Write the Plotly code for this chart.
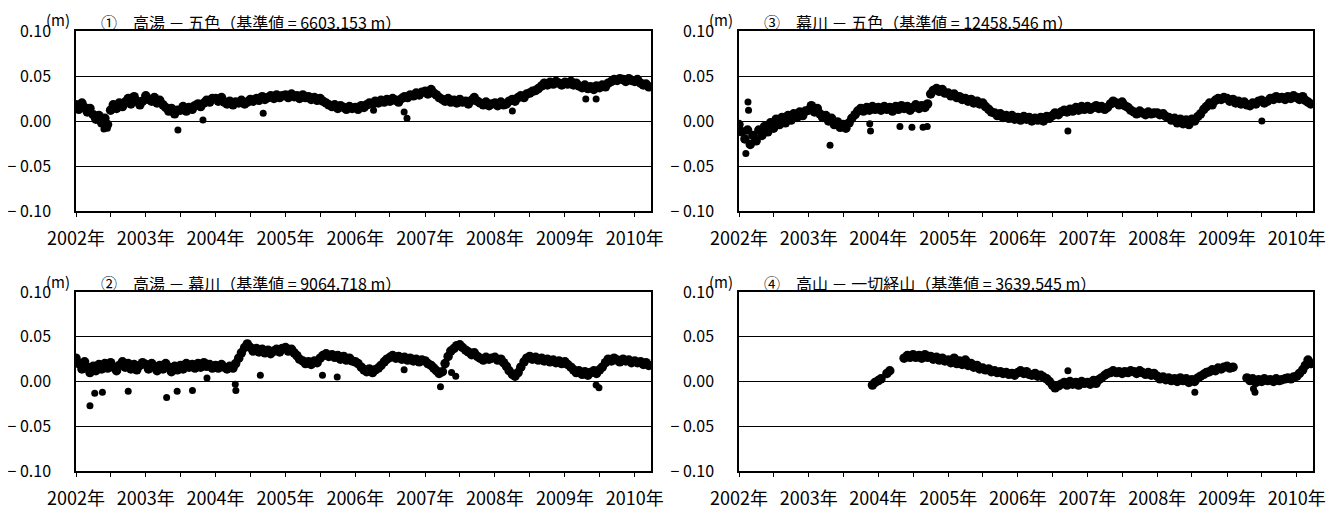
import pandas as pd
import plotly.graph_objects as go

# ---------------- data (values in m, semi-monthly samples) -------------
START = "2002-01-01"

titles = [
    "①　高湯 － 五色（基準値 = 6603.153 m）",
    "③　幕川 － 五色（基準値 = 12458.546 m）",
    "②　高湯 － 幕川（基準値 = 9064.718 m）",
    "④　高山 － 一切経山（基準値 = 3639.545 m）",
]

p1_vals = (
    [0.018, 0.013, 0.020, 0.015, 0.010, 0.014, 0.007, 0.002, 0.006, -0.002, 0.003, -0.004,
     0.012, 0.018, 0.014, 0.020, 0.016, 0.021, 0.025, 0.019, 0.027, 0.022, 0.018, 0.022] +
    [0.028, 0.024, 0.022, 0.026, 0.020, 0.023, 0.018, 0.015, 0.011, 0.014, 0.008, 0.012,
     0.012, 0.016, 0.011, 0.015, 0.013, 0.017, 0.019, 0.016, 0.020, 0.023, 0.021, 0.025] +
    [0.025, 0.022, 0.026, 0.021, 0.019, 0.022, 0.018, 0.021, 0.020, 0.023, 0.019, 0.021,
     0.024, 0.022, 0.025, 0.023, 0.027, 0.024, 0.026, 0.028, 0.025, 0.029, 0.026, 0.028] +
    [0.029, 0.026, 0.030, 0.027, 0.028, 0.025, 0.029, 0.026, 0.027, 0.024, 0.026, 0.023,
     0.025, 0.022, 0.020, 0.018, 0.016, 0.018, 0.014, 0.017, 0.015, 0.013, 0.016, 0.014] +
    [0.015, 0.013, 0.017, 0.015, 0.018, 0.020, 0.019, 0.022, 0.020, 0.023, 0.021, 0.024,
     0.022, 0.025, 0.023, 0.021, 0.025, 0.027, 0.026, 0.029, 0.028, 0.031, 0.029, 0.032] +
    [0.033, 0.030, 0.035, 0.031, 0.029, 0.026, 0.024, 0.022, 0.025, 0.021, 0.023, 0.020,
     0.024, 0.021, 0.022, 0.019, 0.023, 0.026, 0.022, 0.020, 0.018, 0.021, 0.017, 0.019] +
    [0.020, 0.017, 0.021, 0.018, 0.019, 0.022, 0.024, 0.022, 0.026, 0.028, 0.026, 0.030,
     0.031, 0.033, 0.034, 0.036, 0.039, 0.042, 0.040, 0.043, 0.041, 0.044, 0.042, 0.040] +
    [0.043, 0.041, 0.044, 0.040, 0.042, 0.039, 0.037, 0.040, 0.036, 0.038, 0.035, 0.039,
     0.037, 0.040, 0.038, 0.042, 0.044, 0.046, 0.045, 0.047, 0.046, 0.044, 0.047, 0.045] +
    [0.044, 0.046, 0.042, 0.040, 0.041, 0.038]
)
p1_out_x = ["2002-05-27", "2002-06-14", "2003-06-18", "2003-10-27", "2004-09-06", "2006-04-06",
            "2006-09-13", "2006-09-28", "2008-04-01", "2009-04-20", "2009-06-13"]
p1_out_y = [-0.009, -0.008, -0.010, 0.001, 0.0085, 0.012, 0.010, 0.003, 0.011, 0.0245, 0.0245]

p3_vals = (
    [-0.004, -0.012, -0.020, -0.010, -0.026, -0.016, -0.022, -0.010, -0.016, -0.006, -0.012, -0.002,
     -0.008, 0.002, -0.004, 0.004, -0.002, 0.006, 0.001, 0.008, 0.004, 0.010, 0.006, 0.011] +
    [0.012, 0.017, 0.010, 0.014, 0.008, 0.004, 0.006, 0.000, 0.003, -0.004, -0.001, -0.007,
     -0.004, -0.008, -0.002, 0.003, 0.007, 0.011, 0.014, 0.011, 0.015, 0.012, 0.016, 0.013] +
    [0.015, 0.012, 0.016, 0.013, 0.015, 0.011, 0.016, 0.013, 0.017, 0.014, 0.016, 0.012,
     0.015, 0.018, 0.014, 0.017, 0.015, 0.019, 0.030, 0.034, 0.036, 0.033, 0.035, 0.031] +
    [0.031, 0.028, 0.030, 0.026, 0.027, 0.024, 0.025, 0.022, 0.024, 0.020, 0.022, 0.019,
     0.020, 0.016, 0.013, 0.010, 0.009, 0.006, 0.008, 0.004, 0.006, 0.003, 0.006, 0.002] +
    [0.004, 0.001, 0.005, 0.002, 0.004, 0.000, 0.003, 0.001, 0.004, 0.000, 0.005, 0.003,
     0.006, 0.009, 0.007, 0.010, 0.012, 0.010, 0.013, 0.011, 0.015, 0.012, 0.016, 0.013] +
    [0.016, 0.013, 0.015, 0.017, 0.014, 0.016, 0.013, 0.015, 0.019, 0.022, 0.020, 0.018,
     0.021, 0.017, 0.015, 0.012, 0.010, 0.008, 0.011, 0.009, 0.007, 0.010, 0.008, 0.009] +
    [0.009, 0.007, 0.008, 0.005, 0.004, 0.001, 0.003, -0.002, 0.002, -0.003, 0.001, -0.004,
     0.002, 0.000, 0.005, 0.008, 0.013, 0.016, 0.020, 0.018, 0.023, 0.025, 0.024, 0.026] +
    [0.025, 0.022, 0.024, 0.020, 0.022, 0.019, 0.021, 0.018, 0.017, 0.020, 0.019, 0.022,
     0.023, 0.020, 0.022, 0.025, 0.024, 0.027, 0.025, 0.026, 0.024, 0.027, 0.025, 0.028] +
    [0.026, 0.024, 0.027, 0.023, 0.021, 0.019]
)
p3_out_x = ["2002-02-06", "2002-02-17", "2002-02-20", "2003-04-23", "2003-11-17", "2003-11-21",
            "2004-04-23", "2004-06-25", "2004-08-22", "2004-09-13", "2006-09-20", "2009-07-02"]
p3_out_y = [-0.036, 0.021, 0.012, -0.027, -0.003, -0.011, -0.006, -0.007, -0.007, -0.006,
            -0.011, 0.000]

p2_vals = (
    [0.026, 0.020, 0.014, 0.022, 0.016, 0.010, 0.017, 0.012, 0.019, 0.014, 0.020, 0.015,
     0.021, 0.016, 0.012, 0.018, 0.022, 0.016, 0.020, 0.014, 0.019, 0.013, 0.018, 0.021] +
    [0.019, 0.014, 0.020, 0.016, 0.012, 0.018, 0.014, 0.020, 0.016, 0.011, 0.017, 0.013,
     0.018, 0.014, 0.020, 0.016, 0.019, 0.015, 0.020, 0.016, 0.021, 0.017, 0.019, 0.015] +
    [0.018, 0.015, 0.019, 0.016, 0.014, 0.017, 0.015, 0.020, 0.026, 0.032, 0.038, 0.042,
     0.038, 0.034, 0.037, 0.033, 0.036, 0.032, 0.035, 0.031, 0.034, 0.036, 0.033, 0.037] +
    [0.038, 0.034, 0.036, 0.032, 0.029, 0.025, 0.023, 0.020, 0.022, 0.019, 0.023, 0.021,
     0.026, 0.029, 0.031, 0.028, 0.030, 0.027, 0.029, 0.025, 0.028, 0.024, 0.026, 0.023] +
    [0.022, 0.020, 0.016, 0.013, 0.011, 0.014, 0.010, 0.013, 0.015, 0.018, 0.022, 0.025,
     0.027, 0.029, 0.026, 0.028, 0.025, 0.027, 0.024, 0.026, 0.023, 0.025, 0.022, 0.024] +
    [0.023, 0.020, 0.018, 0.015, 0.012, 0.009, 0.011, 0.020, 0.028, 0.034, 0.037, 0.040,
     0.041, 0.038, 0.035, 0.033, 0.030, 0.032, 0.028, 0.026, 0.024, 0.027, 0.025, 0.026] +
    [0.027, 0.024, 0.025, 0.021, 0.017, 0.012, 0.008, 0.006, 0.010, 0.016, 0.022, 0.026,
     0.028, 0.025, 0.027, 0.024, 0.026, 0.023, 0.025, 0.022, 0.024, 0.021, 0.023, 0.020] +
    [0.022, 0.019, 0.016, 0.013, 0.010, 0.012, 0.008, 0.011, 0.007, 0.010, 0.012, 0.009,
     0.013, 0.016, 0.021, 0.025, 0.023, 0.026, 0.024, 0.022, 0.025, 0.023, 0.024, 0.021] +
    [0.023, 0.021, 0.022, 0.019, 0.021, 0.018]
)
p2_out_x = ["2002-03-15", "2002-04-09", "2002-05-19", "2002-10-01", "2003-04-20", "2003-06-14",
            "2003-09-02", "2003-11-17", "2004-04-13", "2004-04-16", "2004-08-22", "2005-07-13",
            "2005-09-28", "2006-09-13", "2007-03-22", "2007-05-19", "2007-06-10", "2009-06-13",
            "2009-06-28"]
p2_out_y = [-0.027, -0.013, -0.012, -0.011, -0.018, -0.011, -0.010, 0.004, -0.003, -0.010,
            0.007, 0.007, 0.005, 0.013, -0.006, 0.010, 0.006, -0.004, -0.007]

p4_vals = (
    [None] * 24 +
    [None] * 22 + [-0.004, -0.001] +
    [0.001, 0.003, None, 0.009, 0.012, None, None, None, None, 0.026, 0.029, 0.027,
     0.030, 0.027, 0.029, 0.026, 0.030, 0.027, 0.028, 0.025, 0.027, 0.024, 0.026, 0.023] +
    [0.024, 0.021, 0.026, 0.020, 0.023, 0.019, 0.024, 0.018, 0.020, 0.016, 0.018, 0.014,
     0.015, 0.013, 0.014, 0.011, 0.012, 0.010, 0.011, 0.009, 0.010, 0.008, 0.009, 0.007] +
    [0.010, 0.012, 0.009, 0.011, 0.008, 0.007, 0.009, 0.006, 0.007, 0.005, 0.003, 0.000,
     -0.004, -0.007, -0.005, -0.003, -0.001, -0.004, 0.000, -0.003, -0.001, -0.004, 0.000, -0.002] +
    [-0.001, -0.003, 0.001, -0.002, 0.002, 0.004, 0.007, 0.009, 0.010, 0.012, 0.010, 0.011,
     0.009, 0.011, 0.010, 0.012, 0.011, 0.009, 0.012, 0.010, 0.008, 0.010, 0.007, 0.009] +
    [0.006, 0.003, 0.005, 0.002, 0.004, 0.001, 0.003, 0.000, 0.004, 0.001, 0.003, -0.001,
     0.002, 0.000, 0.004, 0.006, 0.008, 0.010, 0.011, 0.013, 0.012, 0.015, 0.014, 0.016] +
    [0.017, 0.015, 0.016, None, None, None, None, 0.004, 0.001, 0.003, -0.001, 0.002,
     0.000, 0.003, 0.001, 0.002, 0.000, 0.003, 0.001, 0.002, 0.003, 0.004, 0.003, 0.005] +
    [0.006, 0.009, 0.013, 0.018, 0.024, 0.020]
)
p4_out_x = ["2006-09-20", "2008-07-16", "2009-05-19", "2009-05-27"]
p4_out_y = [0.012, -0.012, -0.008, -0.012]

y_tickvals = [-0.10, -0.05, 0.0, 0.05, 0.10]
y_ticktext = ["\u2212 0.10", "\u2212 0.05", "0.00", "0.05", "0.10"]

# ---------------- figure -------------
OFF = 8                      # page body margin of the browser
W, H = 1341 - OFF, 509 - OFF
FONT = "Noto Sans CJK JP"

# plot-area pixel boxes in the page: (left, right, top, bottom)
boxes = [(76, 651, 31, 211), (739, 1313, 31, 211), (76, 651, 292, 471), (739, 1313, 292, 471)]
series = [(p1_vals, p1_out_x, p1_out_y), (p3_vals, p3_out_x, p3_out_y),
          (p2_vals, p2_out_x, p2_out_y), (p4_vals, p4_out_x, p4_out_y)]


def px(x):
    return (x - OFF) / W


def py(y):
    return 1 - (y - OFF) / H


fig = go.Figure()
annotations = []
for i, ((vals, ox, oy), (l, r, t, b), title) in enumerate(zip(series, boxes, titles), start=1):
    sx = "" if i == 1 else str(i)
    dates = pd.date_range(START, periods=len(vals), freq="SMS")
    fig.add_trace(go.Scatter(x=dates, y=vals, mode="markers",
                             marker=dict(color="black", size=9.5, line=dict(width=0)),
                             xaxis="x" + sx, yaxis="y" + sx, showlegend=False))
    fig.add_trace(go.Scatter(x=ox, y=oy, mode="markers",
                             marker=dict(color="black", size=7, line=dict(width=0)),
                             xaxis="x" + sx, yaxis="y" + sx, showlegend=False))
    fig.layout["xaxis" + sx] = dict(
        domain=[px(l), px(r)], anchor="y" + sx, type="date", automargin=False,
        range=["2002-01-01", "2010-03-27"], tick0="2002-01-01", dtick="M12",
        tickformat="%Y年", ticks="outside", ticklen=4, tickwidth=1, tickcolor="black",
        showline=True, linecolor="black", linewidth=1.5, mirror=True,
        showgrid=False, zeroline=False, tickangle=0, ticklabelstandoff=7,
        tickfont=dict(size=18, color="black", family=FONT),
        minor=dict(tick0="2002-01-01", dtick="M6", ticks="outside", ticklen=4,
                   tickwidth=1, tickcolor="black", showgrid=False),
    )
    fig.layout["yaxis" + sx] = dict(
        domain=[py(b), py(t)], anchor="x" + sx, range=[-0.10, 0.10], automargin=False,
        tickvals=y_tickvals, ticktext=y_ticktext, ticks="",
        showgrid=True, gridcolor="black", gridwidth=1, zeroline=False,
        showline=True, linecolor="black", linewidth=1.5, mirror=True,
        ticklabelstandoff=20, tickfont=dict(size=16, color="black", family=FONT),
    )
    annotations.append(dict(text="(m)", xref="paper", yref="paper",
                            x=px(l - 32), y=py(t - 11), xanchor="left", yanchor="middle",
                            showarrow=False, font=dict(size=15, color="black", family=FONT)))
    annotations.append(dict(text=title, xref="paper", yref="paper",
                            x=px(l + 23), y=py(t - 9), xanchor="left", yanchor="middle",
                            showarrow=False, font=dict(size=16, color="black", family=FONT)))

fig.update_layout(
    width=W, height=H, margin=dict(l=0, r=0, t=0, b=0),
    paper_bgcolor="white", plot_bgcolor="white",
    font=dict(family=FONT, color="black"),
    annotations=annotations, showlegend=False,
)
fig.write_html("out.html")
